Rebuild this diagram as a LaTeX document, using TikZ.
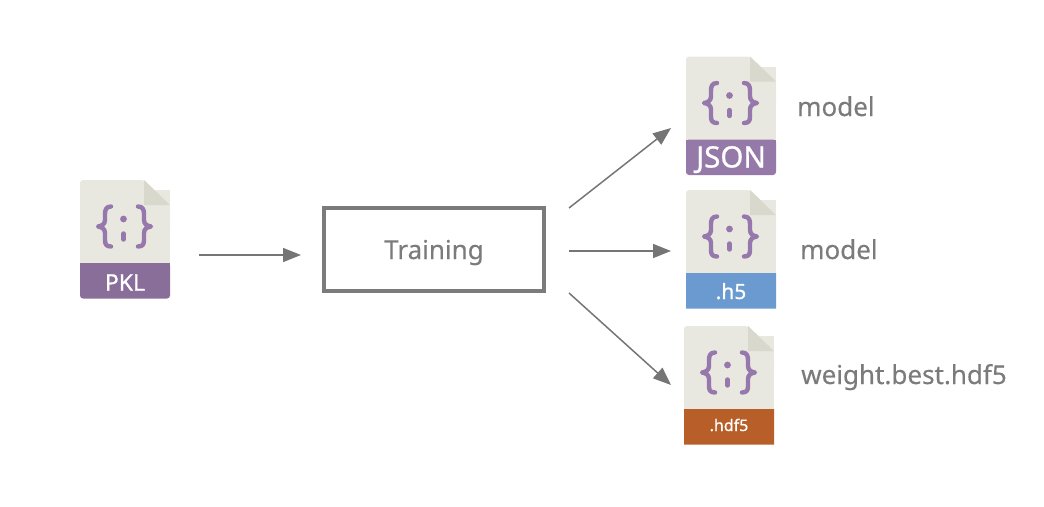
\documentclass[tikz,border=0pt]{standalone}
\usepackage{fontspec}
\setmainfont{Noto Sans}
\newfontface\bandfont[FakeBold=0.8]{Noto Sans}
\newfontface\labelfont[FakeBold=0.3]{Noto Sans}
\usetikzlibrary{arrows.meta}
\definecolor{txtgray}{HTML}{7B7B7B}
\definecolor{linegray}{HTML}{757575}
\definecolor{bodyc}{HTML}{E9E8E0}
\definecolor{foldc}{HTML}{D9D8CC}
\definecolor{bracec}{HTML}{9678AC}
\definecolor{pklc}{HTML}{886E98}
\definecolor{jsonc}{HTML}{9579A8}
\definecolor{hfivec}{HTML}{6A9AD0}
\definecolor{hdfc}{HTML}{B85E28}
\tikzset{
  x=1pt,y=-1pt,
  conn/.style={draw=linegray,line width=1.5pt,-{Triangle[length=18pt,width=14pt]}},
  lbl/.style={text=txtgray,font=\labelfont\fontsize{26}{28}\selectfont,inner sep=0pt,anchor=base west},
  bracestroke/.style={draw=bracec,line width=4.4pt,line cap=round,line join=round},
  bandtext/.style={text=white,inner sep=0pt,anchor=base},
  trainbox/.style={draw=txtgray,line width=3.5pt,minimum width=220pt,minimum height=83pt,inner sep=0pt},
  trainlbl/.style={text=txtgray,font=\labelfont\fontsize{26}{28}\selectfont,inner sep=0pt,anchor=base},
  anchorbox/.style={inner sep=0pt,minimum width=90pt,minimum height=118pt}
}
% #1 name, #2 x, #3 y, #4 colour, #5 label, #6 font size, #7 bottom corner radius, #8 baseline offset
\newcommand{\fileicon}[8]{%
  \begin{scope}[shift={(#2,#3)}]
    \fill[bodyc,rounded corners=3pt] (0,0) -- (64,0) -- (90,25) -- (90,50) -- (0,50) -- cycle;
    \fill[bodyc] (0,10) rectangle (90,83);
    \fill[foldc] (64,0) -- (90,25) -- (64,25) -- cycle;
    \fill[#4,rounded corners=#7] (0,83) -- (90,83) -- (90,118.5) -- (0,118.5) -- cycle;
    \fill[#4] (0,83) rectangle (90,100);
    \draw[bracestroke] (31,26.5) .. controls (26,26.5) and (25,30) .. (25,34) -- (25,40) .. controls (25,44) and (22,46) .. (18,46.5) .. controls (22,47) and (25,49) .. (25,53) -- (25,60) .. controls (25,64) and (26,66.5) .. (31,66.5);
    \draw[bracestroke] (58,26.5) .. controls (63,26.5) and (64,30) .. (64,34) -- (64,40) .. controls (64,44) and (67,46) .. (71,46.5) .. controls (67,47) and (64,49) .. (64,53) -- (64,60) .. controls (64,64) and (63,66.5) .. (58,66.5);
    \fill[bracec] (43.5,39) circle (3.4pt);
    \draw[bracestroke] (43.5,53.5) -- (43.5,59.5);
    \node[bandtext,font=\bandfont\fontsize{#6}{#6}\selectfont] at (45,#8) {#5};
    \node[anchorbox] (#1) at (45,59) {};
  \end{scope}}
\begin{document}
\begin{tikzpicture}
\useasboundingbox (0,0) rectangle (1044,506);
\fileicon{pkl}{80}{180}{pklc}{PKL}{23}{3pt}{110.7}
\fileicon{json}{686}{56.5}{jsonc}{JSON}{29.5}{3pt}{111}
\fileicon{hfive}{686}{190}{hfivec}{.h5}{21}{0.01pt}{109}
\fileicon{hdf}{684}{326}{hdfc}{.hdf5}{16}{0.01pt}{105}
\node[trainbox] (train) at (434,249.5) {};
\node[trainlbl] (tl) at (434,259) {Training};
\node[lbl] (l1) at (797,116) {model};
\node[lbl] (l2) at (800,259) {model};
\node[lbl] (l3) at (801,384) {weight.best.hdf5};
\coordinate (a0) at (199,255);
\coordinate (a1) at (301,255);
\coordinate (s1) at (569,208);
\coordinate (e1) at (671,128);
\coordinate (s2) at (569,251);
\coordinate (e2) at (671,251);
\coordinate (s3) at (569,293);
\coordinate (e3) at (671,385);
\draw[conn] (a0) -- (a1);
\draw[conn] (s1) -- (e1);
\draw[conn] (s2) -- (e2);
\draw[conn] (s3) -- (e3);
\end{tikzpicture}
\end{document}
